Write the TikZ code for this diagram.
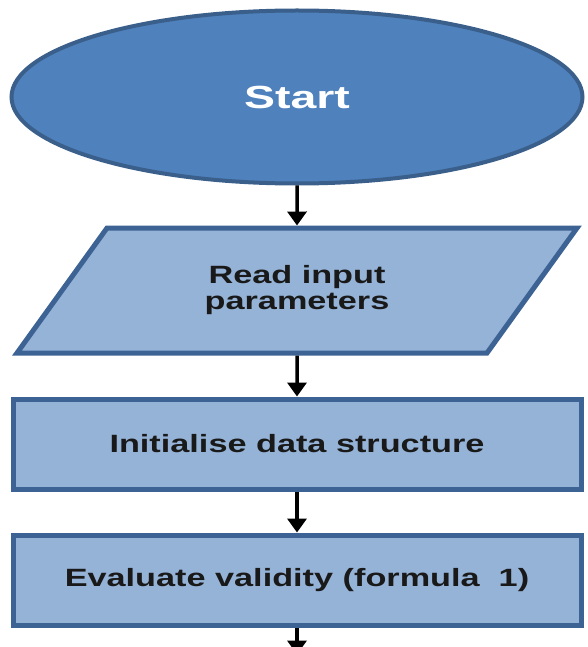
\documentclass[tikz,border=0pt]{standalone}
\usepackage{fontspec}
\setmainfont{Liberation Sans}
\newfontfamily\boxfont[FakeStretch=1.37]{Liberation Sans}
\newfontfamily\startfont[FakeStretch=1.45]{Liberation Sans}
\usepackage{tikz}
\usetikzlibrary{arrows.meta,shapes.geometric,positioning}
\definecolor{startblue}{HTML}{4F81BD}
\definecolor{startedge}{HTML}{3A5F8B}
\definecolor{boxblue}{HTML}{95B3D7}
\definecolor{boxedge}{HTML}{3C6393}
\tikzset{
  basic/.style   = {draw=boxedge, fill=boxblue, line width=5pt, align=center,
                    font=\boxfont\bfseries\fontsize{25}{26}\selectfont, text=black!90},
  startnode/.style = {ellipse, draw=startedge, fill=startblue, line width=4pt,
                    minimum width=571pt, minimum height=173pt, inner sep=0pt,
                    font=\startfont\bfseries\fontsize{32}{38}\selectfont, text=white},
  iobox/.style   = {basic, trapezium, trapezium left angle=51, trapezium right angle=129,
                    trapezium stretches=true, minimum width=561pt, minimum height=125pt},
  procbox/.style = {basic, rectangle, minimum width=568pt, minimum height=90pt}
}

\begin{document}
\begin{tikzpicture}[
  node distance=40pt,
  flow/.style={line width=3.5pt, -{Triangle[width=19pt,length=14pt]}}]

\useasboundingbox (0,0) rectangle (587pt,-647pt);

% start of the chart
\node[startnode] (start) at (297pt,-97pt) {Start};
% the steps below it
\node[iobox, below=of start] (read) {Read input\\parameters};
\node[procbox, below=41pt of read] (init) {Initialise data structure};
\node[procbox, below=41pt of init] (eval) {Evaluate validity (formula~~1)};
\coordinate[below=27pt of eval] (next);

\draw[flow] (start) -- (read);
\draw[flow] (read) -- (init);
\draw[flow] (init) -- (eval);
\draw[flow] (eval) -- (next);

\end{tikzpicture}
\end{document}
